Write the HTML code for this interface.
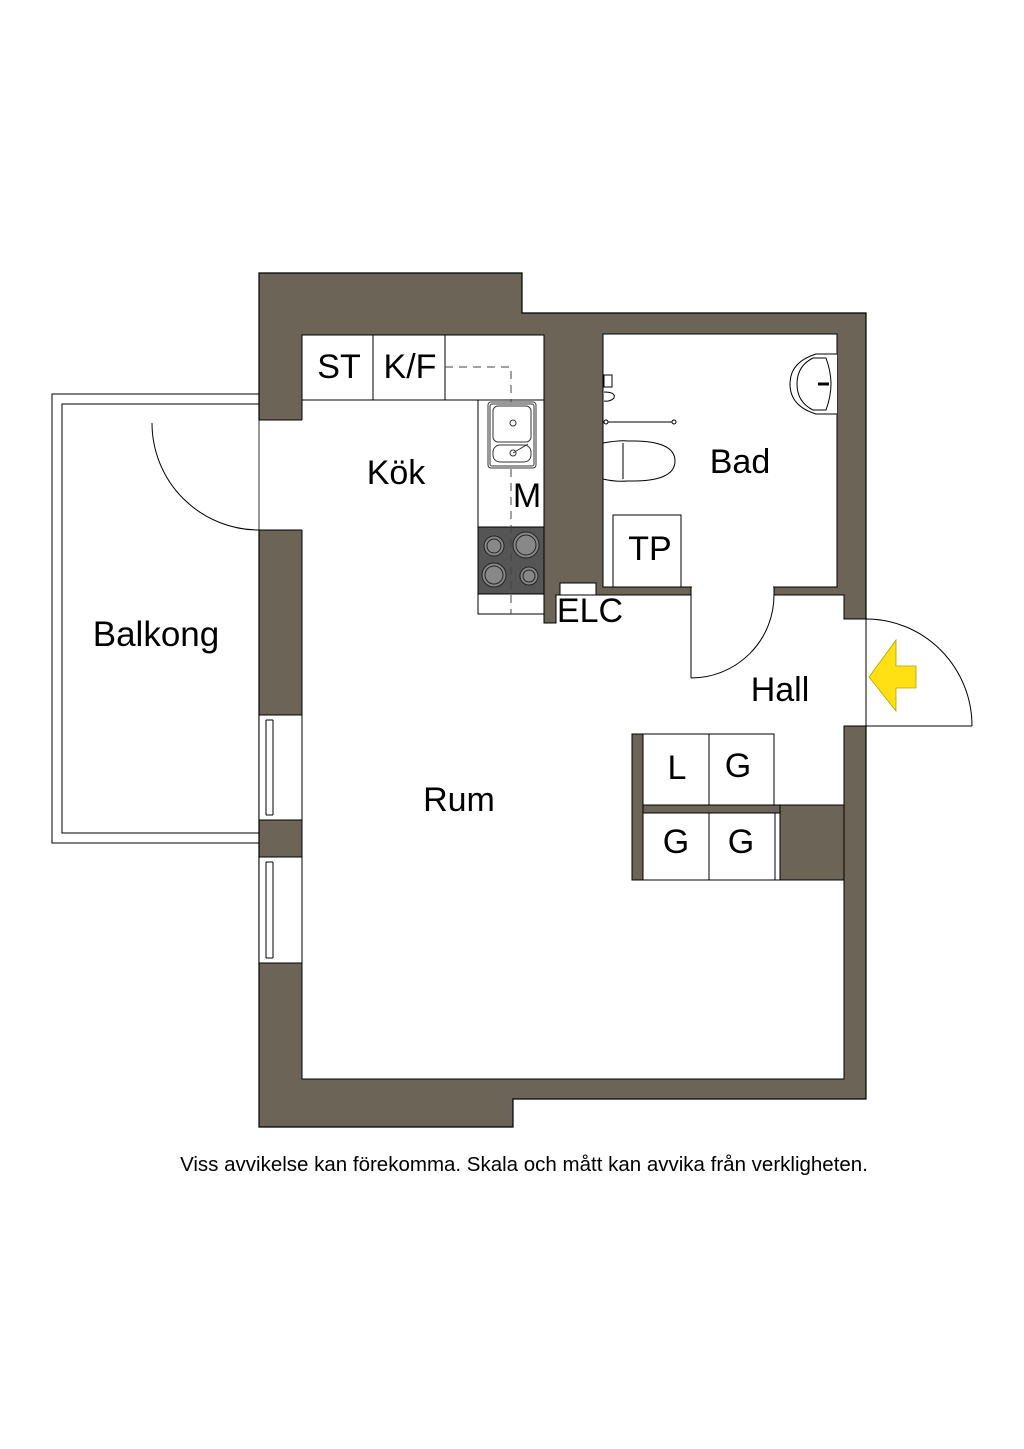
<!DOCTYPE html>
<html><head><meta charset="utf-8"><style>
html,body{margin:0;padding:0;background:#fff;}
svg{display:block;}
text{font-family:"Liberation Sans",Arial,sans-serif;fill:#000;}
</style></head><body>
<svg width="1024" height="1449" viewBox="0 0 1024 1449" xmlns="http://www.w3.org/2000/svg">
<rect width="1024" height="1449" fill="#fff"/>
<rect x="52" y="394" width="207" height="449" fill="#fff" stroke="#000" stroke-width="1"/>
<rect x="62" y="404" width="197" height="429" fill="#fff" stroke="#000" stroke-width="1"/>
<polygon points="259,273 522,273 522,313 866,313 866,1099 513,1099 513,1127 259,1127" fill="#6b6457" stroke="#000" stroke-width="1.2"/>
<polygon points="302,335 544,335 544,623 556,623 556,595 691,595 691,587 774,587 774,595 844,595 844,619 866,619 866,726 844,726 844,1079 302,1079" fill="#fff" stroke="#000" stroke-width="1"/>
<rect x="603" y="334" width="234" height="253" fill="#fff" stroke="#000" stroke-width="1"/>
<rect x="692" y="586" width="81" height="10" fill="#fff"/>
<rect x="258" y="420" width="45" height="110" fill="#fff"/>
<line x1="259" y1="420" x2="302" y2="420" stroke="#000"/>
<line x1="259" y1="530" x2="302" y2="530" stroke="#000"/>
<path d="M152,423 A107,107 0 0 0 259,530" fill="none" stroke="#000"/>
<line x1="259" y1="420" x2="259" y2="530" stroke="#000" stroke-width="0.8"/>
<g stroke="#000" stroke-width="1" fill="#fff">
<rect x="259" y="715" width="43" height="105"/>
<rect x="259" y="857" width="43" height="106"/>
<line x1="266" y1="720" x2="266" y2="815"/><line x1="273" y1="720" x2="273" y2="815"/>
<line x1="266" y1="862" x2="266" y2="958"/><line x1="273" y1="862" x2="273" y2="958"/>
<line x1="266" y1="720" x2="273" y2="720"/><line x1="266" y1="815" x2="273" y2="815"/>
<line x1="266" y1="862" x2="273" y2="862"/><line x1="266" y1="958" x2="273" y2="958"/>
</g>
<rect x="843" y="620" width="25" height="105" fill="#fff"/>
<line x1="844" y1="619" x2="866" y2="619" stroke="#000"/>
<line x1="844" y1="726" x2="866" y2="726" stroke="#000"/>
<line x1="866" y1="619" x2="866" y2="726" stroke="#000"/>
<line x1="866" y1="726" x2="972" y2="726" stroke="#000"/>
<path d="M866,619 A106,107 0 0 1 972,726" fill="none" stroke="#000"/>
<polygon points="869,677 896,640 896,666 916,666 916,688 896,688 896,711" fill="#ffe014" stroke="#b9a000" stroke-width="0.8"/>
<line x1="691" y1="595" x2="691" y2="678" stroke="#000"/>
<path d="M691,678 A83,83 0 0 0 774,595" fill="none" stroke="#000"/>
<g stroke="#000" stroke-width="1" fill="#fff">
<rect x="302" y="335" width="242" height="65"/>
<line x1="373" y1="335" x2="373" y2="400"/>
<line x1="445" y1="335" x2="445" y2="400"/>
<rect x="478" y="400" width="66" height="214"/>
</g>
<rect x="478" y="527" width="66" height="67" fill="#555" stroke="#000"/>
<g fill="#888" stroke="#222" stroke-width="1">
<circle cx="494" cy="546" r="10"/><circle cx="494" cy="546" r="7"/>
<circle cx="526" cy="545" r="13"/><circle cx="526" cy="545" r="10"/>
<circle cx="494" cy="575" r="12"/><circle cx="494" cy="575" r="9"/>
<circle cx="529" cy="576" r="9"/><circle cx="529" cy="576" r="6"/>
</g>
<path d="M445,367 H511 V614" fill="none" stroke="#444" stroke-width="1" stroke-dasharray="8,6"/>
<g fill="#fff" stroke="#333" stroke-width="1">
<rect x="488" y="402" width="48" height="66" rx="3"/>
<rect x="490" y="404" width="44" height="62" rx="2"/>
<rect x="493" y="406" width="38" height="36" rx="5"/>
<rect x="493" y="445" width="38" height="17" rx="7"/>
<circle cx="513" cy="423" r="3"/><circle cx="513" cy="453" r="3"/>
<line x1="513" y1="453" x2="528" y2="444"/>
</g>
<rect x="560" y="583" width="36" height="12" fill="#fff" stroke="#000"/>
<g fill="#fff" stroke="#000" stroke-width="1">
<path d="M837,354 H816 Q790,362 790,384 Q790,406 816,414 H837"/>
<path d="M813,358 Q797,366 797,384 Q797,402 813,410 L826,410 Q831,396 831,384 Q831,372 826,358 Z"/>
<line x1="818" y1="384" x2="829" y2="384" stroke-width="3"/>
<rect x="613" y="515" width="68" height="72"/>
<path d="M603,443 Q620,440 628,441 Q675,440 675,461 Q675,482 628,481 Q615,482 603,479 Z"/>
<line x1="623" y1="443" x2="623" y2="479"/>
<line x1="605" y1="422" x2="674" y2="422"/>
<circle cx="606" cy="422" r="2"/><circle cx="674" cy="422" r="2"/>
<rect x="604" y="375" width="8" height="12"/>
<path d="M604,392 Q616,392 614,398 Q610,402 604,401"/>
</g>
<g stroke="#000" stroke-width="1">
<rect x="632" y="734" width="11" height="146" fill="#6b6457"/>
<rect x="643" y="805" width="201" height="8" fill="#6b6457"/>
<rect x="780" y="805" width="64" height="75" fill="#6b6457"/>
<rect x="643" y="734" width="131" height="71" fill="#fff"/>
<line x1="709" y1="734" x2="709" y2="805"/>
<rect x="643" y="813" width="137" height="67" fill="#fff"/>
<line x1="709" y1="813" x2="709" y2="880"/>
<line x1="775" y1="813" x2="775" y2="880"/>
<line x1="632" y1="880" x2="844" y2="880"/>
</g>
<g font-size="34">
<text x="339" y="378" text-anchor="middle">ST</text>
<text x="410" y="378" text-anchor="middle">K/F</text>
<text x="396" y="484" text-anchor="middle">Kök</text>
<text x="527" y="507" text-anchor="middle">M</text>
<text x="590" y="622" text-anchor="middle">ELC</text>
<text x="740" y="473" text-anchor="middle">Bad</text>
<text x="650" y="560" text-anchor="middle">TP</text>
<text x="780" y="701" text-anchor="middle">Hall</text>
<text x="156" y="646" text-anchor="middle" font-size="35">Balkong</text>
<text x="459" y="811" text-anchor="middle">Rum</text>
<text x="677" y="779" text-anchor="middle">L</text>
<text x="738" y="777" text-anchor="middle">G</text>
<text x="676" y="853" text-anchor="middle">G</text>
<text x="741" y="853" text-anchor="middle">G</text>
</g>
<text x="524" y="1171" font-size="20.5" text-anchor="middle">Viss avvikelse kan förekomma. Skala och mått kan avvika från verkligheten.</text>
</svg>
</body></html>
